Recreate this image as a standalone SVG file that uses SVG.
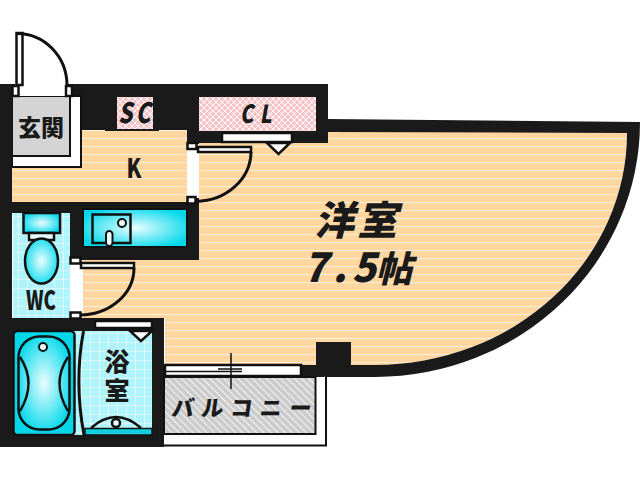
<svg xmlns="http://www.w3.org/2000/svg" width="640" height="480" viewBox="0 0 640 480">
<defs>
<pattern id="floor" width="8" height="8" y="2" patternUnits="userSpaceOnUse"><rect width="8" height="8" fill="#fdd6a0"/><rect width="8" height="1" fill="#fff0dc"/></pattern>
<pattern id="tile" width="9" height="9" patternUnits="userSpaceOnUse"><rect width="9" height="9" fill="#b0f4fb"/><path d="M0 0H9M0 0V9" stroke="#fff" stroke-width="1.200"/></pattern>
<pattern id="pink" width="6" height="6" patternUnits="userSpaceOnUse"><rect width="6" height="6" fill="#f8c4c8"/><path d="M0 0L6 6M6 0L0 6" stroke="#fff" stroke-width="1"/></pattern>
<pattern id="hatch" width="5" height="5" patternUnits="userSpaceOnUse" patternTransform="rotate(-45)"><rect width="5" height="5" fill="#cbcbcb"/><rect width="1.200" height="5" fill="#f2f2f2"/></pattern>
<radialGradient id="cy" cx=".5" cy=".5" r=".58"><stop offset="0" stop-color="#eafdff"/><stop offset="1" stop-color="#00d8ea"/></radialGradient>
</defs>
<style>
.w{fill:#1a1a1a}
.l{fill:none;stroke:#111;stroke-width:3}
.d{fill:#fff;stroke:#111;stroke-width:2.500}
.t{font-family:"Noto Sans CJK JP","Noto Sans",sans-serif;font-weight:900;fill:#1a1a1a}
</style>
<g id="floors">
<path d="M12 166H82V130H187V143H328V132H627A252 232 0 0 1 375 365H165V318H83V202H12Z" fill="url(#floor)"/>
</g>
<g id="walls">
<path class="w" d="M328 119L640 122A265 255 0 0 1 375 377H302V365H316V342H351V365H375A252 232 0 0 0 627 133L328 132Z"/>
<path class="w" d="M68 84H328V143H199V131H187V143H187V96H82V130H74V96H68Z"/>
<rect class="w" x="82" y="96" width="105" height="34"/>
<rect class="w" x="187" y="96" width="12" height="48"/>
<rect class="w" x="0" y="84" width="15" height="12"/>
<rect class="w" x="0" y="84" width="12" height="240"/>
<rect class="w" x="12" y="202" width="71" height="11"/>
<rect class="w" x="70" y="202" width="13" height="58"/>
<path class="w" d="M83 202H187V197H199V260H70V247H83Z"/>
<path class="w" d="M0 318H164V447H0Z"/>
</g>
<g id="entry">
<rect x="12" y="96" width="69" height="71" fill="#fff" stroke="#111" stroke-width="2"/>
<rect x="12" y="96" width="58" height="60" fill="#d4d4d4" stroke="#111" stroke-width="2"/>
<rect x="0" y="96" width="12" height="72" class="w"/>
<rect x="15" y="84" width="53" height="12" fill="#fff"/>
<rect x="12.500" y="86" width="6" height="10" class="d"/>
<rect x="66" y="86" width="6" height="10" class="d"/>
<rect x="16.500" y="33" width="6" height="52" class="d"/>
<path class="l" d="M17 33.500A50 52 0 0 1 67 85"/>
<text class="t" x="18" y="136" font-size="23">玄関</text>
</g>
<g id="sc">
<rect x="117" y="97" width="36" height="33" fill="url(#pink)"/>
<rect x="105" y="129" width="54" height="2" class="w"/>
<text class="t" transform="translate(118 123) skewX(-12) scale(.8 1)" font-size="28" letter-spacing="4">SC</text>
</g>
<g id="cl">
<rect x="199" y="97" width="117" height="34" fill="url(#pink)"/>
<text class="t" transform="translate(240 123) skewX(-10) scale(.8 1)" font-size="25" letter-spacing="8">CL</text>
<rect x="222" y="133" width="70" height="9" class="d" stroke-width="2"/>
<path d="M267 143H290L278.500 154Z" class="d"/>
</g>
<g id="k">
<text class="t" transform="translate(126.500 178) scale(.78 1)" font-size="27">K</text>
</g>
<g id="kitchen-door">
<rect x="187" y="144" width="12" height="54" fill="#fff"/>
<rect x="187.500" y="143" width="9" height="6" class="d"/>
<rect x="187.500" y="197" width="8" height="6.500" class="d"/>
<rect x="198" y="147" width="53" height="5" class="d"/>
<path class="l" d="M251 152A56 50 0 0 1 196 201.500"/>
</g>
<g id="kitchen">
<rect x="83" y="209" width="104" height="38" fill="url(#cy)" stroke="#111" stroke-width="2"/>
<rect x="92.500" y="214.500" width="38" height="28.500" fill="none" stroke="#111" stroke-width="2.500"/>
<circle cx="122" cy="223" r="4" fill="#eafdff" stroke="#111" stroke-width="2"/>
<rect x="106" y="231" width="6.500" height="15" rx="3.200" fill="#eafdff" stroke="#111" stroke-width="2"/>
</g>
<g id="wc">
<rect x="13" y="213" width="57" height="105" fill="url(#tile)"/>
<rect x="70" y="260" width="13" height="58" fill="#fff"/>
<rect x="23.500" y="213" width="36.500" height="20" fill="url(#cy)" stroke="#111" stroke-width="2.500"/>
<rect x="29" y="233" width="25" height="7" fill="#eafdff" stroke="#111" stroke-width="2.500"/>
<ellipse cx="41.500" cy="261" rx="16.500" ry="22.500" fill="url(#cy)" stroke="#111" stroke-width="2.500"/>
<text class="t" transform="translate(26 310) scale(.72 1)" font-size="26">WC</text>
<rect x="70.500" y="257.500" width="10" height="6" class="d"/>
<rect x="70.500" y="312.500" width="10" height="6" class="d"/>
<rect x="81" y="263" width="53" height="5" class="d"/>
<path class="l" d="M134 268A54 47 0 0 1 80 315"/>
</g>
<g id="bath">
<rect x="13" y="331" width="62" height="104" rx="4" fill="#00d8ea"/>
<rect x="74" y="331" width="78" height="104" fill="url(#tile)"/>
<rect x="18.500" y="336.500" width="51" height="93" rx="21" fill="url(#cy)" stroke="#111" stroke-width="2.500"/>
<rect x="13.500" y="331" width="61" height="104" rx="4" fill="none" stroke="#111" stroke-width="2.500"/>
<path class="l" style="stroke-width:2.500" d="M20 357Q37 383 20 411M68 357Q51 383 68 411"/>
<circle cx="43" cy="347" r="4" fill="#eafdff" stroke="#111" stroke-width="2"/>
<path class="l" d="M83.500 331Q74 382 84 435"/>
<path d="M91 428Q116 406 141 428" fill="none" stroke="#111" stroke-width="2.500"/>
<rect x="85" y="428.500" width="67" height="6.500" fill="#10d0e0" stroke="#111" stroke-width="1.500"/>
<circle cx="116" cy="423" r="4" fill="#eafdff" stroke="#111" stroke-width="2.500"/>
<rect x="95" y="321" width="57" height="7" class="d"/>
<path d="M130 331H152L141 341Z" class="d"/>
<text class="t" x="117" y="349" font-size="25" letter-spacing="4" style="writing-mode:vertical-rl">浴室</text>
</g>
<g id="balcony">
<path d="M164 445.500H326V376" fill="#fff" stroke="#111" stroke-width="2"/>
<rect x="164" y="377" width="151.500" height="57" fill="url(#hatch)" stroke="#111" stroke-width="2"/>
<rect x="165" y="365" width="136" height="11" class="d"/>
<path d="M165 371.500H242M218 369H242" stroke="#111" stroke-width="1.500"/>
<path d="M231 353V389" stroke="#111" stroke-width="1.500"/>
<text class="t" transform="translate(171 416) skewX(-8)" font-size="22" letter-spacing="7.500">バルコニー</text>
</g>
<g id="western-room">
<text class="t" transform="translate(314 235) skewX(-14)" font-size="40" letter-spacing="3">洋室<tspan x="1" y="47" font-size="40" letter-spacing="5">7.5</tspan><tspan font-size="36" dx="-5" y="47" letter-spacing="0">帖</tspan></text>
</g>
<g id="connectors"></g>
</svg>
